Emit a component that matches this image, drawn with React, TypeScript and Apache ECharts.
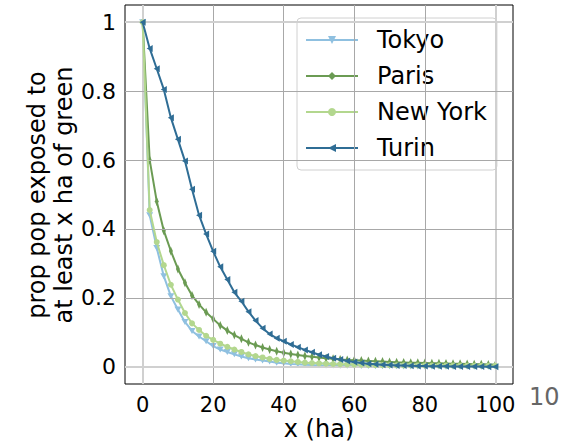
import React, { useEffect, useRef } from "react";
import * as echarts from "echarts";

const xValues: number[] = Array.from({ length: 51 }, (_, i) => i * 2);

const tokyo: number[] = [
  1, 0.44, 0.345, 0.263, 0.205, 0.166, 0.13, 0.104, 0.088, 0.074, 0.06, 0.05, 0.043, 0.036, 0.03, 0.025,
  0.021, 0.018, 0.015, 0.012, 0.01, 0.008, 0.007, 0.006, 0.005, 0.0045, 0.004, 0.0035, 0.003, 0.0028,
  0.0025, 0.0022, 0.002, 0.0018, 0.0016, 0.0014, 0.0012, 0.001, 0.0009, 0.0008, 0.0007, 0.0006, 0.0005,
  0.0004, 0.0004, 0.0003, 0.0003, 0.0002, 0.0002, 0.0001, 0.0001,
];
const paris: number[] = [
  1, 0.6, 0.48, 0.395, 0.336, 0.284, 0.244, 0.207, 0.181, 0.158, 0.139, 0.12, 0.105, 0.092, 0.081, 0.071,
  0.063, 0.056, 0.05, 0.045, 0.041, 0.037, 0.034, 0.031, 0.029, 0.027, 0.025, 0.023, 0.021, 0.02, 0.019,
  0.018, 0.017, 0.016, 0.015, 0.014, 0.013, 0.0125, 0.012, 0.0115, 0.011, 0.0105, 0.01, 0.0095, 0.009,
  0.0085, 0.008, 0.0075, 0.007, 0.0065, 0.006,
];
const newYork: number[] = [
  1, 0.455, 0.362, 0.295, 0.238, 0.195, 0.156, 0.126, 0.107, 0.09, 0.078, 0.067, 0.058, 0.05, 0.043, 0.036,
  0.031, 0.027, 0.023, 0.02, 0.018, 0.016, 0.014, 0.012, 0.011, 0.01, 0.009, 0.008, 0.0075, 0.007, 0.0065,
  0.006, 0.0055, 0.005, 0.0048, 0.0045, 0.0043, 0.0041, 0.004, 0.0039, 0.0038, 0.0037, 0.0036, 0.0035,
  0.0034, 0.0033, 0.0032, 0.0031, 0.003, 0.003, 0.003,
];
const turin: number[] = [
  1, 0.924, 0.865, 0.805, 0.723, 0.66, 0.597, 0.515, 0.44, 0.385, 0.335, 0.29, 0.253, 0.216, 0.19, 0.16,
  0.134, 0.112, 0.095, 0.083, 0.074, 0.065, 0.057, 0.049, 0.042, 0.035, 0.03, 0.025, 0.021, 0.017, 0.014,
  0.011, 0.009, 0.007, 0.006, 0.005, 0.004, 0.0035, 0.003, 0.0025, 0.002, 0.0018, 0.0015, 0.0013, 0.0011,
  0.001, 0.0008, 0.0006, 0.0005, 0.0004, 0.0003,
];

const xTicks: number[] = [0, 20, 40, 60, 80, 100];
const yTicks: number[] = [0, 0.2, 0.4, 0.6, 0.8, 1];
const seriesNames: string[] = ["Tokyo", "Paris", "New York", "Turin"];
const colors: string[] = ["#8fc0e0", "#6b9b53", "#b3d78e", "#2f6d95"];
const symbols: string[] = ["triangle", "diamond", "circle", "triangle"];
const symbolRotates: number[] = [180, 0, 0, 90];
const symbolSizes: any[] = [[7, 6], [4, 9], 6, [7, 6]];

const FONT = "DejaVu Sans";

export default function App() {
  const ref = useRef<HTMLDivElement>(null);
  useEffect(() => {
    if (!ref.current) return;
    const chart = echarts.init(ref.current, undefined, { renderer: "svg" });
    const allData = [tokyo, paris, newYork, turin];
    const gridMark = (axis: "xAxis" | "yAxis", vals: number[], ends: number[]) =>
      vals.map((v) => ({
        [axis]: v,
        lineStyle: ends.includes(v)
          ? { color: "#d0d0d0", width: 2, type: "solid" }
          : { color: "#a8a8a8", width: 1, type: "solid" },
      }));
    const series: any[] = allData.map((d, i) => ({
      name: seriesNames[i],
      type: "line",
      data: d.map((v, j) => [xValues[j], v]),
      symbol: symbols[i],
      symbolRotate: symbolRotates[i],
      symbolSize: symbolSizes[i],
      showAllSymbol: true,
      itemStyle: { color: colors[i] },
      lineStyle: { color: colors[i], width: 2 },
      z: 3 + i,
    }));
    series.unshift({
      type: "line",
      data: [],
      silent: true,
      z: 1,
      markLine: {
        silent: true,
        symbol: "none",
        label: { show: false },
        data: [...gridMark("xAxis", xTicks, [0, 100]), ...gridMark("yAxis", yTicks, [0, 1])],
      },
    });
    chart.setOption({
      animation: false,
      backgroundColor: "#ffffff",
      textStyle: { fontFamily: FONT },
      grid: {
        left: 125,
        right: 57,
        top: 5,
        bottom: 60,
        show: true,
        borderColor: "#000000",
        borderWidth: 1,
        backgroundColor: "transparent",
      },
      xAxis: {
        type: "value",
        min: -5,
        max: 105,
        axisLine: { show: false },
        splitLine: { show: false },
        axisTick: { show: true, length: 5, lineStyle: { color: "#000" }, customValues: xTicks },
        axisLabel: {
          customValues: xTicks,
          fontSize: 21,
          color: "#000",
          fontFamily: FONT,
          margin: 10,
        },
      },
      yAxis: {
        type: "value",
        min: -0.05,
        max: 1.05,
        axisLine: { show: false },
        splitLine: { show: false },
        axisTick: { show: true, length: 5, lineStyle: { color: "#000" }, customValues: yTicks },
        axisLabel: {
          customValues: yTicks,
          fontSize: 22,
          color: "#000",
          fontFamily: FONT,
          margin: 9,
          formatter: (v: number) => String(Math.round(v * 10) / 10),
        },
      },
      legend: {
        data: seriesNames,
        left: 297,
        top: 18,
        orient: "vertical",
        itemWidth: 52,
        itemHeight: 10,
        itemGap: 10,
        padding: [9, 10, 9, 8],
        backgroundColor: "rgba(255,255,255,0.85)",
        borderColor: "#d0d0d0",
        borderWidth: 1,
        borderRadius: 4,
        textStyle: {
          fontSize: 24,
          fontFamily: FONT,
          color: "#000",
          lineHeight: 26,
          padding: [0, 0, 0, 14],
        },
      },
      graphic: [
        {
          type: "text",
          x: 319,
          y: 429,
          style: {
            text: "x (ha)",
            font: `24px '${FONT}'`,
            fill: "#000",
            align: "center",
            verticalAlign: "middle",
          },
        },
        {
          type: "text",
          x: 50,
          y: 195,
          rotation: Math.PI / 2,
          style: {
            text: "prop pop exposed to\nat least x ha of green",
            font: `24px '${FONT}'`,
            fill: "#000",
            align: "center",
            verticalAlign: "middle",
            lineHeight: 27,
          },
        },
        {
          type: "text",
          x: 529,
          y: 397,
          style: {
            text: "10",
            font: `24px '${FONT}'`,
            fill: "#666666",
            align: "left",
            verticalAlign: "middle",
          },
        },
      ],
      series,
    });
    return () => chart.dispose();
  }, []);
  return <div ref={ref} style={{ width: 570, height: 444, position: "absolute", left: 0, top: 0 }} />;
}
